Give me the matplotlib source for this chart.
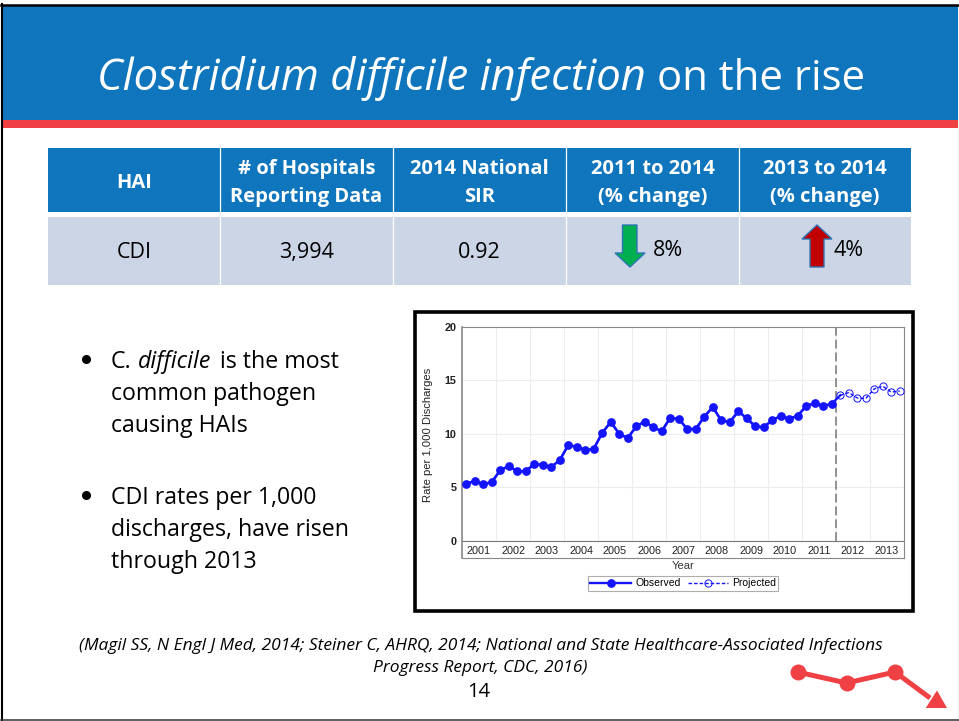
import matplotlib
matplotlib.use("Agg")
import matplotlib.pyplot as plt
from matplotlib.patches import Rectangle, Polygon

# chart data, quarterly rates
years = [2001, 2002, 2003, 2004, 2005, 2006, 2007, 2008, 2009, 2010, 2011, 2012, 2013]
observed = [
    5.35, 5.6, 5.3, 5.5,
    6.6, 7.0, 6.5, 6.5,
    7.2, 7.1, 6.9, 7.55,
    8.95, 8.8, 8.45, 8.6,
    10.1, 11.1, 10.0, 9.6,
    10.7, 11.15, 10.6, 10.25,
    11.5, 11.4, 10.45, 10.45,
    11.6, 12.5, 11.25, 11.1,
    12.1, 11.45, 10.7, 10.6,
    11.3, 11.65, 11.4, 11.7,
    12.6, 12.85, 12.6, 12.8,
]
projected = [13.6, 13.85, 13.35, 13.3, 14.2, 14.45, 13.9, 14.0]
y_ticks = [0, 5, 10, 15, 20]

# table text
headers = ["HAI", "# of Hospitals\nReporting Data", "2014 National\nSIR",
           "2011 to 2014\n(% change)", "2013 to 2014\n(% change)"]
row = ["CDI", "3,994", "0.92", "8%", "4%"]
col_edges = [48, 220, 393, 566, 739, 911]

bullets = [
    ["common pathogen", "causing HAIs"],
    ["CDI rates per 1,000", "discharges, have risen", "through 2013"],
]
source = ["(Magil SS, N Engl J Med, 2014; Steiner C, AHRQ, 2014; National and State Healthcare-Associated Infections",
          "Progress Report, CDC, 2016)"]

BLUE = "#0F75BD"
RED = "#EF4044"
W, H = 959, 721
plt.rcParams["font.family"] = ["Open Sans", "DejaVu Sans"]

fig = plt.figure(figsize=(W / 100, H / 100), dpi=100)

# slide, in pixel coordinates
ax = fig.add_axes([0, 0, 1, 1])
ax.set_xlim(0, W)
ax.set_ylim(H, 0)
ax.axis("off")

ax.add_patch(Rectangle((0, 0), W, H, fc="white", ec="none"))
ax.add_patch(Rectangle((3, 5), 955, 116, fc=BLUE, ec="none"))
ax.add_patch(Rectangle((3, 120), 955, 8, fc=RED, ec="none"))
ax.plot([2, 2], [3.5, H], color="black", lw=1.5)
ax.plot([1, W], [4.5, 4.5], color="black", lw=1.8)
ax.plot([958.5, 958.5], [5, H], color="#222222", lw=0.8)
ax.plot([1, W], [719.5, 719.5], color="#333333", lw=1.1)

ax.text(97, 90, "Clostridium difficile infection", style="italic", color="white",
        fontsize=31.4, va="baseline", ha="left")
ax.text(865, 90, "on the rise", color="white", fontsize=30.2, va="baseline", ha="right")

# table
ax.add_patch(Rectangle((48, 148), 863, 64, fc=BLUE, ec="none"))
ax.add_patch(Rectangle((48, 217), 863, 68, fc="#CCD5E6", ec="none"))
for x in col_edges[1:-1]:
    ax.plot([x, x], [148, 285], color="white", lw=0.9)
for i, h in enumerate(headers):
    cx = (col_edges[i] + col_edges[i + 1]) / 2
    ax.text(cx, 183, h, color="white", fontsize=14.5, weight="bold", ha="center",
            va="center", linespacing=1.5)
for i in range(3):
    cx = (col_edges[i] + col_edges[i + 1]) / 2
    ax.text(cx, 258, row[i], color="black", fontsize=15.5, ha="center", va="baseline")
ax.text(668, 255.5, row[3], color="black", fontsize=15.5, ha="center", va="baseline")
ax.text(849, 255.5, row[4], color="black", fontsize=15.5, ha="center", va="baseline")

# arrows
ax.add_patch(Polygon([(622.5, 225), (637, 225), (637, 253), (645, 253), (630, 267),
                      (615, 253), (622.5, 253)], fc="#00B050", ec="#2E75B6", lw=1))
ax.add_patch(Polygon([(810, 267), (824, 267), (824, 239), (832, 239), (817, 225),
                      (802, 239), (810, 239)], fc="#C00000", ec="#2E75B6", lw=1))

# bullets
ax.plot([86], [359], "o", color="black", ms=5.5)
ax.plot([86], [495], "o", color="black", ms=5.5)
ax.text(111, 368.5, "C.", color="black", fontsize=16.7, va="baseline")
ax.text(137.5, 368.5, "difficile", style="italic", color="black", fontsize=16.7, va="baseline")
ax.text(220, 368.5, "is the most", color="black", fontsize=16.7, va="baseline")
for j, line in enumerate(bullets[0]):
    ax.text(111, 400.5 + j * 32, line, color="black", fontsize=16.7, va="baseline")
for j, line in enumerate(bullets[1]):
    ax.text(111, 504.5 + j * 32, line, color="black", fontsize=16.7, va="baseline")

# source and page number
ax.text(481, 646, source[0], style="italic", fontsize=12.55, ha="center", va="center", color="black")
ax.text(480, 668, source[1], style="italic", fontsize=12.55, ha="center", va="center", color="black")
ax.text(479, 692, "14", fontsize=14.5, ha="center", va="center", color="black")

# red logo
ax.plot([797.5, 846.5, 895, 930], [672, 683, 672, 698], color=RED, lw=3.6, solid_capstyle="butt")
ax.plot([797.5, 846.5, 895], [672, 683, 672], "o", color=RED, ms=11.5, mew=0)
ax.add_patch(Polygon([(937, 690.5), (947, 708), (925.7, 708)], fc=RED, ec="none"))

# chart frame
ax.add_patch(Rectangle((414.5, 311.5), 498.5, 299, fc="white", ec="black", lw=2.6))


def px_axes(left, top, right, bottom):
    return fig.add_axes([left / W, 1 - bottom / H, (right - left) / W, (bottom - top) / H])


# line chart, x in years with each quarter at the middle of its slot
chart = px_axes(462, 326.7, 904, 558)
chart.set_facecolor("white")
n_obs = len(observed)
x_obs = [years[0] + (i + 0.5) / 4 for i in range(n_obs)]
x_proj = [years[0] + (i + n_obs + 0.5) / 4 for i in range(len(projected))]

chart.set_xlim(years[0], years[-1] + 1)
y_low = -(558 - 541) / ((541 - 326.7) / 20)
chart.set_ylim(y_low, 20)

for yr in years[1:]:
    chart.plot([yr, yr], [0, 20], color="#EDEDED", lw=0.8, zorder=1)
for t in y_ticks[1:-1]:
    chart.plot([years[0], years[-1] + 1], [t, t], color="#EDEDED", lw=0.8, zorder=1)
chart.axhline(0, color="#777777", lw=0.8, zorder=2)
chart.axvline(x_obs[-1] + 0.125, ymax=1, ymin=(0 - y_low) / (20 - y_low), color="#808080",
              lw=1.2, dashes=(5.3, 2.4), zorder=2)

chart.plot(x_obs + x_proj[:1], observed + projected[:1], color="#1414FF", lw=1.7, zorder=3)
obs_line, = chart.plot(x_obs, observed, "-o", color="#1414FF", lw=1.7, ms=6.3, mew=0, zorder=4)
proj_line, = chart.plot(x_proj, projected, "--o", color="#1414FF", lw=1, ms=5.2, mfc="none",
                        mew=0.7, zorder=4, dashes=(2.5, 1.5))

chart.set_xticks([y + 0.5 for y in years])
chart.set_xticklabels(years, fontsize=7.8, family="Liberation Sans", color="#222222")
chart.tick_params(axis="x", length=0, pad=-8.3)
chart.set_yticks(y_ticks)
chart.set_yticklabels(y_ticks, fontsize=7.8, family="Liberation Sans", color="#222222", weight="bold")
chart.tick_params(axis="y", length=0, pad=4)
for s in chart.spines.values():
    s.set_color("#888888")
    s.set_linewidth(0.8)
chart.spines["left"].set_linewidth(1.2)
chart.set_ylabel("Rate per 1,000 Discharges", fontsize=8.1, family="Liberation Sans", color="#222222",
                 labelpad=0)
chart.yaxis.set_label_coords(-0.066, 0.534)
chart.set_xlabel("Year", fontsize=8, family="Liberation Sans", color="#333333", labelpad=3)
chart.xaxis.set_label_coords(0.5, -0.012)

legend = chart.legend([obs_line, proj_line], ["Observed", "Projected"], loc="center",
                      bbox_to_anchor=(0.501, -0.110), ncol=2, frameon=True, fancybox=False,
                      edgecolor="#999999", borderpad=0.2, borderaxespad=0, handlelength=3.9,
                      columnspacing=0.67, handletextpad=0.4,
                      prop={"family": "Liberation Sans", "size": 7.5})
legend.get_frame().set_linewidth(0.8)

fig.savefig("out.png", dpi=100)
